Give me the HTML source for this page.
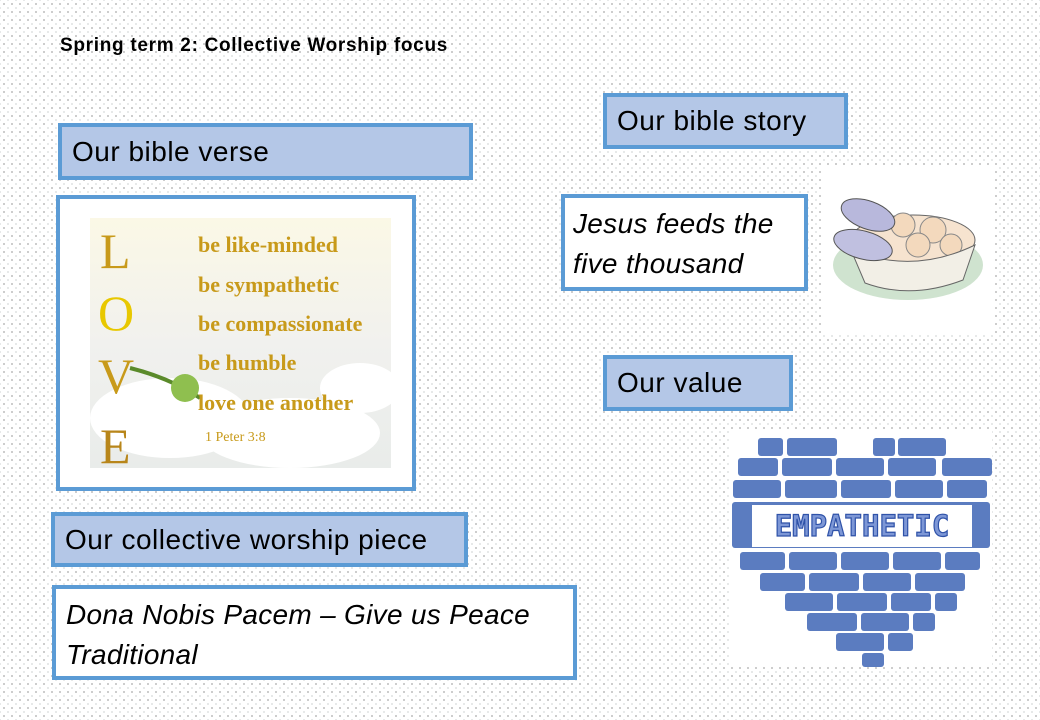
<!DOCTYPE html>
<html><head><meta charset="utf-8"><style>
*{margin:0;padding:0;box-sizing:border-box}
body{width:1040px;height:720px;overflow:hidden;position:relative;background:#fff;
background-image:radial-gradient(circle,#8c8c8c 0.6px,transparent 0.9px),radial-gradient(circle,#c8cccc 0.6px,transparent 0.9px);background-size:8px 8px,8px 8px;background-position:0 0,4px 4px;
font-family:"Liberation Sans",Calibri,sans-serif;color:#000}
.a{position:absolute}
.hd{background:#b4c7e7;border:4px solid #5b9bd5;font-size:28px;letter-spacing:0.5px;padding-left:10px;display:flex;align-items:center}
.wb{background:#fff;border:4px solid #5b9bd5}
.it{font-style:italic;font-size:28px;letter-spacing:0.3px;line-height:40px;padding:6px 8px}
</style></head><body>
<div class="a" style="left:60px;top:35px;font-size:19px;letter-spacing:0.7px;font-weight:bold">Spring term 2: Collective Worship focus</div>

<div class="a hd" style="left:58px;top:123px;width:415px;height:57px">Our bible verse</div>
<div class="a wb" style="left:56px;top:195px;width:360px;height:296px"></div>
<svg class="a" style="left:90px;top:218px" width="301" height="250" viewBox="0 0 301 250">
<defs><linearGradient id="g" x1="0" y1="0" x2="0" y2="1"><stop offset="0" stop-color="#fbf8e6"/><stop offset=".5" stop-color="#f1f1ee"/><stop offset="1" stop-color="#e9ecea"/></linearGradient></defs>
<rect width="301" height="250" fill="url(#g)"/>
<ellipse cx="80" cy="200" rx="80" ry="40" fill="#fff"/><ellipse cx="200" cy="215" rx="90" ry="35" fill="#fff"/><ellipse cx="270" cy="170" rx="40" ry="25" fill="#fff"/>
<path d="M40 150 Q80 160 110 180" stroke="#5a8a2a" stroke-width="4" fill="none"/>
<circle cx="95" cy="170" r="14" fill="#8fbf4f"/>
<g font-family="Liberation Serif,serif" fill="#c89a1a">
<text x="10" y="50" font-size="50">L</text><text x="8" y="112" font-size="50" fill="#e8c800">O</text>
<text x="8" y="175" font-size="50">V</text><text x="10" y="245" font-size="50" fill="#b8861a">E</text>
<g font-size="22" font-weight="bold"><text x="108" y="34">be like-minded</text><text x="108" y="74">be sympathetic</text><text x="108" y="113">be compassionate</text><text x="108" y="152">be humble</text><text x="108" y="192">love one another</text></g>
<text x="115" y="223" font-size="14">1 Peter 3:8</text></g></svg>

<div class="a hd" style="left:603px;top:93px;width:245px;height:56px">Our bible story</div>
<div class="a wb it" style="left:561px;top:194px;width:247px;height:97px">Jesus feeds the five thousand</div>
<div class="a" style="left:823px;top:165px;width:170px;height:170px;background:#fff"></div>
<svg class="a" style="left:823px;top:165px" width="170" height="170" viewBox="0 0 170 170">
<ellipse cx="85" cy="100" rx="75" ry="35" fill="#cfe3cf"/>
<ellipse cx="90" cy="75" rx="62" ry="25" fill="#f6e3cf" stroke="#666"/>
<circle cx="80" cy="60" r="12" fill="#f3d9bd" stroke="#888"/><circle cx="110" cy="65" r="13" fill="#f3d9bd" stroke="#888"/><circle cx="95" cy="80" r="12" fill="#f3d9bd" stroke="#888"/><circle cx="128" cy="80" r="11" fill="#f3d9bd" stroke="#888"/>
<path d="M28 85 Q90 110 152 80 L140 115 Q88 135 42 118 Z" fill="#f2efe6" stroke="#666"/>
<ellipse cx="45" cy="50" rx="28" ry="14" fill="#b8b8dc" stroke="#555" transform="rotate(20 45 50)"/>
<ellipse cx="40" cy="80" rx="30" ry="14" fill="#c0c0e0" stroke="#555" transform="rotate(15 40 80)"/>
</svg>

<div class="a hd" style="left:603px;top:355px;width:190px;height:56px">Our value</div>
<div class="a" style="left:730px;top:430px;width:262px;height:237px;background:#fff"></div>
<svg class="a" style="left:730px;top:430px" width="262" height="237" viewBox="0 0 262 237">
<g fill="#5b7cc0">
<rect x="28" y="8" width="25" height="18" rx="3"/><rect x="57" y="8" width="50" height="18" rx="3"/><rect x="143" y="8" width="22" height="18" rx="3"/><rect x="168" y="8" width="48" height="18" rx="3"/>
<rect x="8" y="28" width="40" height="18" rx="3"/><rect x="52" y="28" width="50" height="18" rx="3"/><rect x="106" y="28" width="48" height="18" rx="3"/><rect x="158" y="28" width="48" height="18" rx="3"/><rect x="212" y="28" width="50" height="18" rx="3"/>
<rect x="3" y="50" width="48" height="18" rx="3"/><rect x="55" y="50" width="52" height="18" rx="3"/><rect x="111" y="50" width="50" height="18" rx="3"/><rect x="165" y="50" width="48" height="18" rx="3"/><rect x="217" y="50" width="40" height="18" rx="3"/>
<rect x="2" y="72" width="258" height="46" rx="3"/>
<rect x="10" y="122" width="45" height="18" rx="3"/><rect x="59" y="122" width="48" height="18" rx="3"/><rect x="111" y="122" width="48" height="18" rx="3"/><rect x="163" y="122" width="48" height="18" rx="3"/><rect x="215" y="122" width="35" height="18" rx="3"/>
<rect x="30" y="143" width="45" height="18" rx="3"/><rect x="79" y="143" width="50" height="18" rx="3"/><rect x="133" y="143" width="48" height="18" rx="3"/><rect x="185" y="143" width="50" height="18" rx="3"/>
<rect x="55" y="163" width="48" height="18" rx="3"/><rect x="107" y="163" width="50" height="18" rx="3"/><rect x="161" y="163" width="40" height="18" rx="3"/><rect x="205" y="163" width="22" height="18" rx="3"/>
<rect x="77" y="183" width="50" height="18" rx="3"/><rect x="131" y="183" width="48" height="18" rx="3"/><rect x="183" y="183" width="22" height="18" rx="3"/>
<rect x="106" y="203" width="48" height="18" rx="3"/><rect x="158" y="203" width="25" height="18" rx="3"/>
<rect x="132" y="223" width="22" height="14" rx="3"/>
</g>
<rect x="22" y="75" width="220" height="42" fill="#fff"/>
<text x="132" y="106" text-anchor="middle" font-family="DejaVu Sans Mono,monospace" font-weight="bold" font-size="29" fill="#7d97d6" stroke="#2f52a8" stroke-width="1.2">EMPATHETIC</text>
</svg>

<div class="a hd" style="left:51px;top:512px;width:417px;height:55px">Our collective worship piece</div>
<div class="a wb it" style="left:52px;top:585px;width:525px;height:95px;padding-left:10px">Dona Nobis Pacem – Give us Peace<br>Traditional</div>
</body></html>
